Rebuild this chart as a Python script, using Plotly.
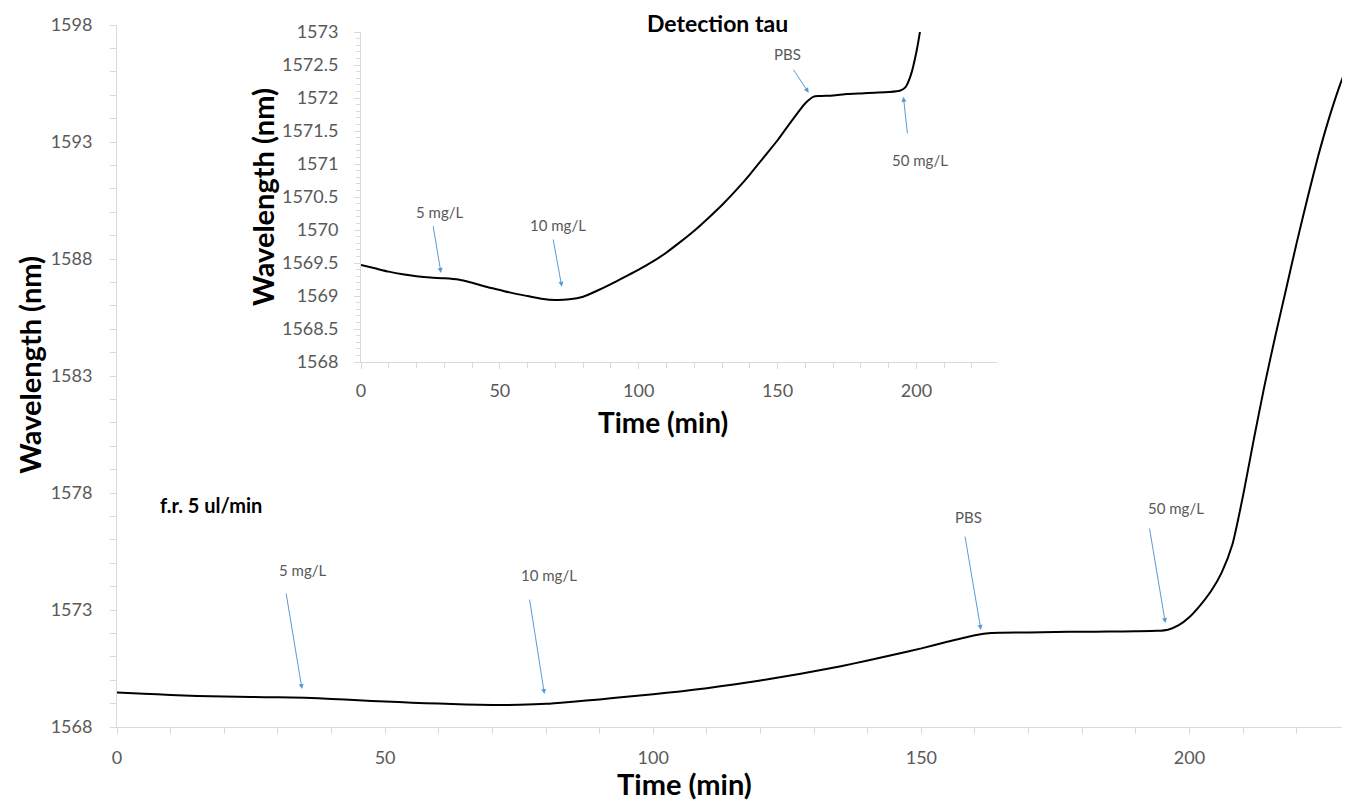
import plotly.graph_objects as go

# ---- data ----
time_min = [0, 5, 10, 15, 20, 25, 30, 35, 40, 45, 50, 55, 60, 65, 70, 75, 80, 85, 90, 95,
            100, 105, 110, 115, 120, 125, 130, 135, 140, 145, 150, 155, 160, 163, 165, 170,
            175, 180, 185, 190, 194, 196, 198, 200, 202, 204, 206, 208, 210, 212, 214, 216,
            218, 220, 222, 224, 226, 228, 229]
wavelength_nm = [1569.47, 1569.42, 1569.37, 1569.33, 1569.30, 1569.28, 1569.27, 1569.25,
                 1569.20, 1569.14, 1569.09, 1569.04, 1569.00, 1568.96, 1568.94, 1568.95,
                 1568.99, 1569.08, 1569.18, 1569.29, 1569.40, 1569.52, 1569.66, 1569.82,
                 1569.99, 1570.18, 1570.38, 1570.60, 1570.84, 1571.10, 1571.36, 1571.65,
                 1571.92, 1572.02, 1572.03, 1572.04, 1572.06, 1572.07, 1572.08, 1572.09,
                 1572.11, 1572.16, 1572.35, 1572.70, 1573.20, 1573.80, 1574.60, 1575.80,
                 1577.90, 1580.30, 1582.60, 1584.70, 1586.70, 1588.70, 1590.60, 1592.40,
                 1594.00, 1595.40, 1596.00]

main_yticks = [1568, 1573, 1578, 1583, 1588, 1593, 1598]
main_xticks = [0, 50, 100, 150, 200]
inset_yticks = [1568, 1568.5, 1569, 1569.5, 1570, 1570.5, 1571, 1571.5, 1572, 1572.5, 1573]
inset_ytext = ["1568", "1568.5", "1569", "1569.5", "1570", "1570.5", "1571", "1571.5",
               "1572", "1572.5", "1573"]
inset_xticks = [0, 50, 100, 150, 200]

FONT = "Lato"
AXIS_GRAY = "#d9d9d9"
LABEL_GRAY = "#595959"
BLUE = "#5B9BD5"

fig = go.Figure()
for xa, ya in (("x", "y"), ("x2", "y2")):
    fig.add_trace(go.Scatter(x=time_min, y=wavelength_nm, mode="lines",
                             line=dict(color="black", width=2, shape="spline", smoothing=0.6),
                             xaxis=xa, yaxis=ya, showlegend=False))

common_axis = dict(showgrid=False, zeroline=False, showline=True, linecolor=AXIS_GRAY,
                   linewidth=1, ticks="outside", tickcolor=AXIS_GRAY, ticklen=6,
                   tickfont=dict(family=FONT, size=18, color=LABEL_GRAY))

fig.update_layout(
    width=1342, height=797,
    paper_bgcolor="white", plot_bgcolor="white",
    margin=dict(l=109, r=5, t=17, b=78),
    font=dict(family=FONT),
    xaxis=dict(domain=[0, 1], range=[0, 229], tickvals=main_xticks,
               ticklabelstandoff=8,
               minor=dict(dtick=10, ticks="outside", ticklen=6, tickcolor=AXIS_GRAY),
               **common_axis),
    yaxis=dict(domain=[0, 1], range=[1568, 1598], tickvals=main_yticks,
               ticklabelstandoff=14,
               minor=dict(dtick=1, ticks="outside", ticklen=6, tickcolor=AXIS_GRAY),
               **common_axis),
    xaxis2=dict(domain=[0.1987, 0.7166], anchor="y2", range=[0, 229],
                tickvals=inset_xticks, ticklabelstandoff=6,
                minor=dict(dtick=10, ticks="outside", ticklen=5, tickcolor=AXIS_GRAY),
                **common_axis),
    yaxis2=dict(domain=[0.5199, 0.990], anchor="x2", range=[1568, 1573],
                tickvals=inset_yticks, ticktext=inset_ytext, ticklabelstandoff=12,
                minor=dict(dtick=0.1, ticks="outside", ticklen=4, tickcolor=AXIS_GRAY),
                **common_axis),
)

ann = []
title_font = dict(family=FONT, size=29, color="black")
ann.append(dict(text="<b>Wavelength (nm)</b>", x=-0.0708, y=0.516, xref="paper", yref="paper",
                textangle=-90, showarrow=False, font=title_font, xanchor="center", yanchor="middle"))
ann.append(dict(text="<b>Time (min)</b>", x=0.4625, y=-0.0798, xref="paper", yref="paper",
                showarrow=False, font=title_font, xanchor="center", yanchor="middle"))
ann.append(dict(text="<b>Wavelength (nm)</b>", x=0.1189, y=0.755, xref="paper", yref="paper",
                textangle=-90, showarrow=False, font=title_font, xanchor="center", yanchor="middle"))
ann.append(dict(text="<b>Time (min)</b>", x=0.4446, y=0.434, xref="paper", yref="paper",
                showarrow=False, font=dict(family=FONT, size=28, color="black"),
                xanchor="center", yanchor="middle"))
ann.append(dict(text="<b>Detection tau</b>", x=0.4894, y=1.003, xref="paper", yref="paper",
                showarrow=False, font=dict(family=FONT, size=23, color="black"),
                xanchor="center", yanchor="middle"))
ann.append(dict(text="<b>f.r. 5 ul/min</b>", x=0.0765, y=0.316, xref="paper", yref="paper",
                showarrow=False, font=dict(family=FONT, size=20, color="black"),
                xanchor="center", yanchor="middle"))

small = dict(family=FONT, size=15, color=LABEL_GRAY)

# main-plot markers: (label, text pos, tail, tip)
main_marks = [
    ("5 mg/L", (34.5, 1574.7), (31.5, 1573.77), (34.5, 1569.62)),
    ("10 mg/L", (80.6, 1574.5), (76.9, 1573.51), (79.7, 1569.41)),
    ("PBS", (158.8, 1576.97), (158.1, 1576.2), (161.1, 1572.15)),
    ("50 mg/L", (197.4, 1577.36), (192.5, 1576.55), (195.5, 1572.44)),
]
for label, tpos, tail, tip in main_marks:
    ann.append(dict(text=label, x=tpos[0], y=tpos[1], xref="x", yref="y", showarrow=False,
                    font=small, xanchor="center", yanchor="middle"))
    ann.append(dict(text="", x=tip[0], y=tip[1], xref="x", yref="y", ax=tail[0], ay=tail[1],
                    axref="x", ayref="y", showarrow=True, arrowhead=2, arrowsize=1,
                    arrowwidth=1, arrowcolor=BLUE))

inset_marks = [
    ("5 mg/L", (28.4, 1570.27), (25.9, 1570.08), (28.8, 1569.35)),
    ("10 mg/L", (70.9, 1570.08), (69.1, 1569.88), (72.3, 1569.14)),
    ("PBS", (153.6, 1572.67), (155.4, 1572.45), (161.2, 1572.08)),
    ("50 mg/L", (201.1, 1571.06), (196.8, 1571.44), (195.3, 1572.02)),
]
for label, tpos, tail, tip in inset_marks:
    ann.append(dict(text=label, x=tpos[0], y=tpos[1], xref="x2", yref="y2", showarrow=False,
                    font=small, xanchor="center", yanchor="middle"))
    ann.append(dict(text="", x=tip[0], y=tip[1], xref="x2", yref="y2", ax=tail[0], ay=tail[1],
                    axref="x2", ayref="y2", showarrow=True, arrowhead=2, arrowsize=1,
                    arrowwidth=1, arrowcolor=BLUE))

fig.update_layout(annotations=ann)
fig.write_html("out.html")
